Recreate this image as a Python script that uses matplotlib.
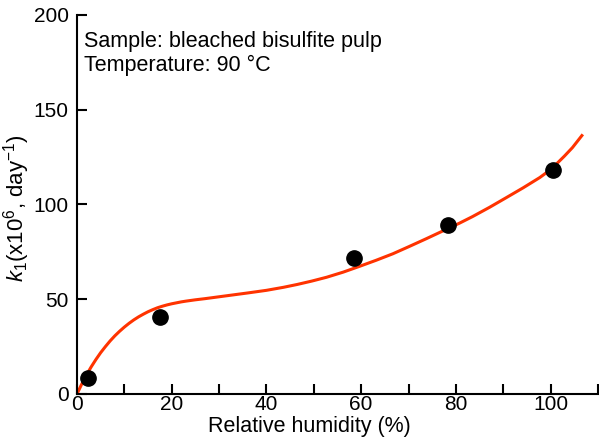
import matplotlib.pyplot as plt

plt.rcParams["font.family"] = ["Liberation Sans", "DejaVu Sans"]
plt.rcParams["mathtext.fontset"] = "custom"
plt.rcParams["mathtext.rm"] = "Liberation Sans"
plt.rcParams["mathtext.it"] = "Liberation Sans:italic"

# measured points
rh = [2.3, 17.5, 58.4, 78.3, 100.4]
k1 = [8.4, 40.5, 71.6, 89.0, 118.0]

# fitted curve
curve_x = [0, 1, 2, 3, 4, 5, 6, 7, 8, 9, 10, 11, 12, 13, 14, 15, 16, 17, 18,
           19, 20, 21, 22, 23, 25, 27, 30, 33, 36, 40, 43.6, 46.5, 49.6, 52.7,
           56.2, 59.7, 63.2, 66.7, 70.2, 73.8, 77.3, 80.8, 83.5, 87.1, 90.7,
           94.2, 97.7, 99.5, 101.2, 102.9, 104.6, 106.8]
curve_y = [0, 5.2, 10.0, 14.3, 18.2, 21.8, 25.0, 28.0, 30.7, 33.1, 35.3, 37.3,
           39.1, 40.7, 42.1, 43.4, 44.5, 45.5, 46.3, 47.0, 47.6, 48.1, 48.6,
           49.0, 49.7, 50.3, 51.3, 52.3, 53.3, 54.7, 56.3, 57.8, 59.6, 61.6,
           64.3, 67.4, 70.6, 74.0, 77.9, 82.0, 86.1, 90.2, 93.6, 98.5, 103.7,
           108.8, 114.2, 117.5, 121.3, 125.5, 130.0, 137.0]


def main():
    fig = plt.figure(figsize=(5.99, 4.41), dpi=100)
    ax = fig.add_axes([0.1285, 0.1066, 0.8698, 0.8594])

    ax.plot(curve_x, curve_y, color="#ff3300", lw=2.2, solid_capstyle="butt",
            zorder=2)
    ax.plot(rh, k1, "o", color="black", ms=11, zorder=3)

    ax.set_xlim(0, 110)
    ax.set_ylim(0, 200)
    ax.set_xticks([0, 20, 40, 60, 80, 100])
    ax.set_xticks([10, 30, 50, 70, 90, 110], minor=True)
    ax.set_yticks([0, 50, 100, 150, 200])

    for side in ("top", "right"):
        ax.spines[side].set_visible(False)
    for side in ("left", "bottom"):
        ax.spines[side].set_linewidth(1.5)

    ax.tick_params(axis="both", which="both", direction="in", width=1.5,
                   length=7, labelsize=15)
    ax.tick_params(axis="y", pad=6)
    ax.tick_params(axis="x", pad=1)

    ax.set_xlabel("Relative humidity (%)", fontsize=15.5)
    ax.xaxis.set_label_coords(0.446, -0.058)
    ax.set_ylabel("$k_1$(x10$^6$, day$^{-1}$)", fontsize=16)
    ax.yaxis.set_label_coords(-0.087, 0.49)

    ax.text(0.014, 0.958, "Sample: bleached bisulfite pulp\nTemperature: 90 \u00b0C",
            transform=ax.transAxes, fontsize=15.5, va="top", ha="left",
            linespacing=1.17)

    fig.savefig("out.png", dpi=100)
    plt.close(fig)


if __name__ == "__main__":
    main()
